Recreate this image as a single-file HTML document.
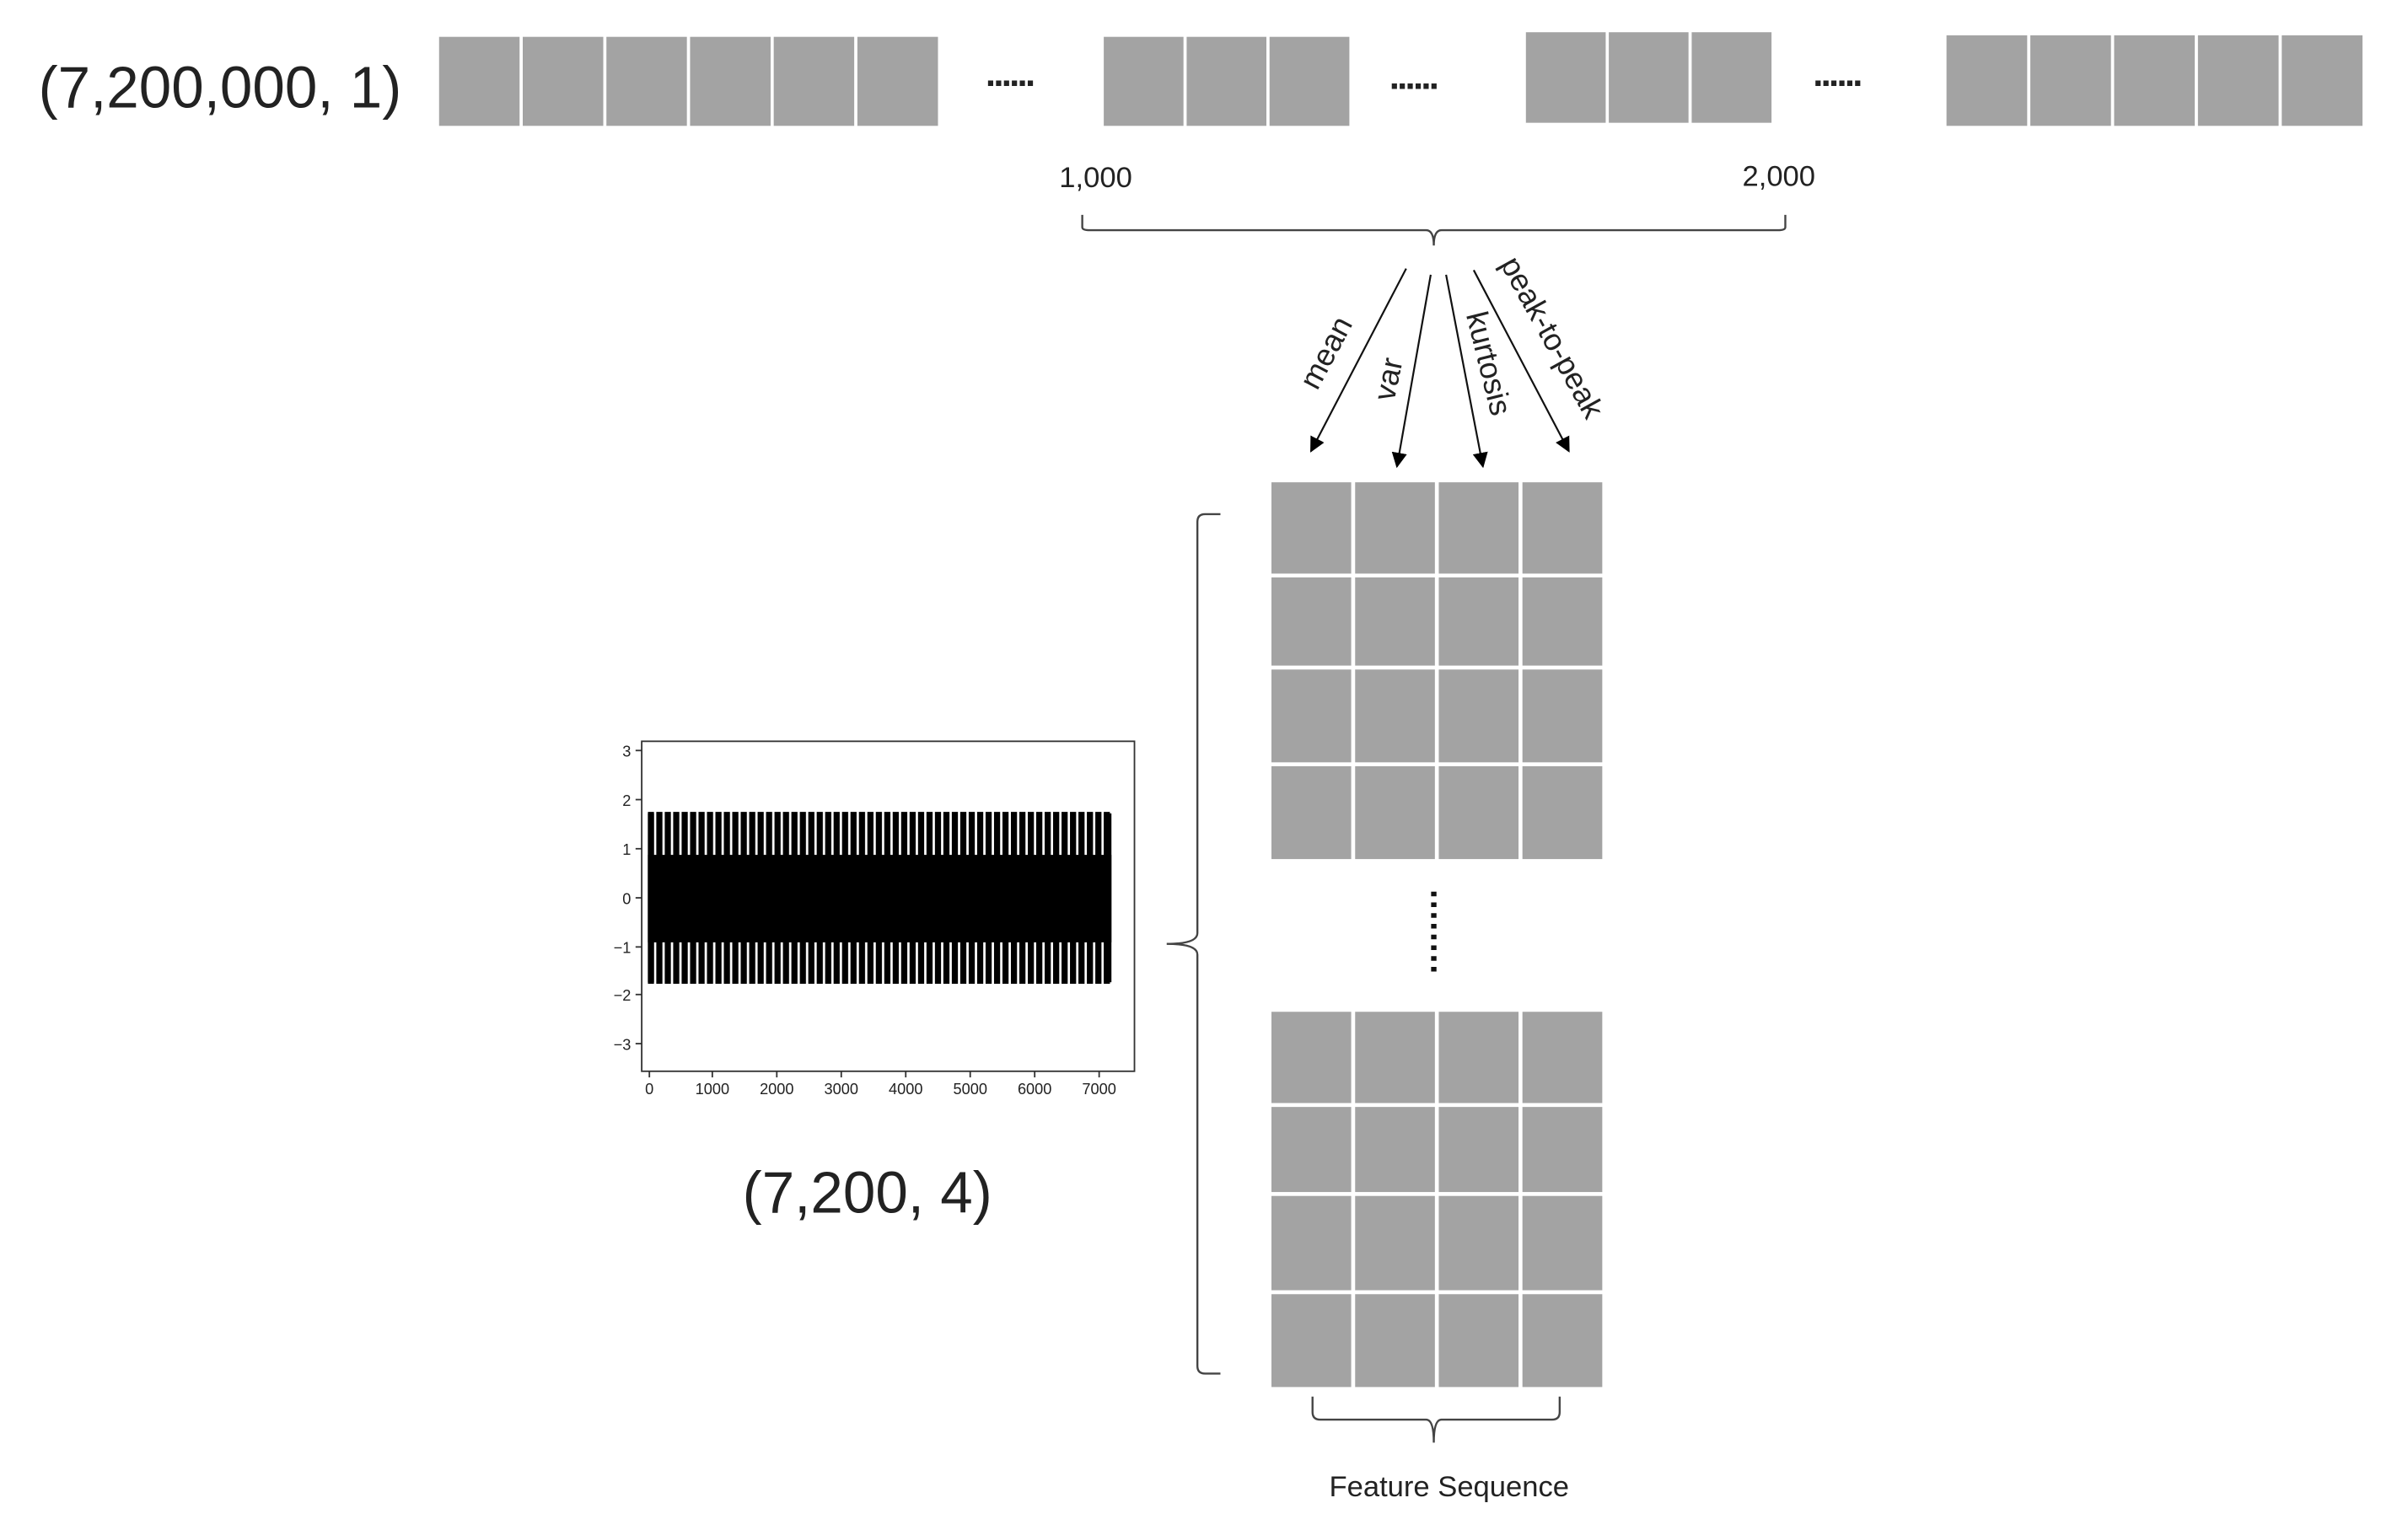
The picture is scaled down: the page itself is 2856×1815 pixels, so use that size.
<!DOCTYPE html>
<html><head><meta charset="utf-8"><style>
html,body{margin:0;padding:0;background:#fff;}
svg{display:block;}
text{font-family:"Liberation Sans","Noto Sans CJK SC",sans-serif;fill:#222;}
</style></head><body>
<svg width="2856" height="1815" viewBox="0 0 1568.6 996.9" xmlns="http://www.w3.org/2000/svg">
<defs>
<pattern id="sp" x="422" y="0" width="5.5" height="10" patternUnits="userSpaceOnUse">
<rect x="0" y="0" width="4" height="10" fill="#000"/>
</pattern>
<marker id="ah" markerWidth="10" markerHeight="10" refX="9" refY="5" orient="auto" markerUnits="userSpaceOnUse">
<path d="M0,0 L10,5 L0,10 z" fill="#000"/>
</marker>
</defs>
<text x="25" y="70" font-size="38" fill="#222">(7,200,000, 1)</text>
<g fill="#a3a3a3" stroke="#fff" stroke-width="2">
<rect x="285" y="23" width="54.5" height="60"/><rect x="339.5" y="23" width="54.5" height="60"/><rect x="394" y="23" width="54.5" height="60"/><rect x="448.5" y="23" width="54.5" height="60"/><rect x="503" y="23" width="54.5" height="60"/><rect x="557.5" y="23" width="54.5" height="60"/>
<rect x="718" y="23" width="54" height="60"/><rect x="772" y="23" width="54" height="60"/><rect x="826" y="23" width="54" height="60"/>
<rect x="993" y="20" width="54" height="61"/><rect x="1047" y="20" width="54" height="61"/><rect x="1101" y="20" width="54" height="61"/>
<rect x="1267" y="22" width="54.6" height="61"/><rect x="1321.6" y="22" width="54.6" height="61"/><rect x="1376.2" y="22" width="54.6" height="61"/><rect x="1430.8" y="22" width="54.6" height="61"/><rect x="1485.4" y="22" width="54.6" height="61"/>
</g>
<g fill="#111" font-weight="bold">
<text x="642" y="56" font-size="24" letter-spacing="-1.5">......</text>
<text x="905" y="58" font-size="24" letter-spacing="-1.5">......</text>
<text x="1181" y="56" font-size="24" letter-spacing="-1.5">......</text>
</g>
<text x="690" y="122" font-size="19">1,000</text>
<text x="1135" y="121" font-size="19">2,000</text>
<path d="M705,140 V148 Q705,150 710,150 H929 Q934,150 934,160 Q934,150 939,150 H1158 Q1163,150 1163,148 V140" fill="none" stroke="#444" stroke-width="1.3"/>
<g stroke="#111" stroke-width="1.2" marker-end="url(#ah)">
<line x1="916" y1="175" x2="854" y2="294"/>
<line x1="932" y1="179" x2="910" y2="304"/>
<line x1="942" y1="179" x2="966" y2="304"/>
<line x1="960" y1="176" x2="1022" y2="294"/>
</g>
<text font-size="20" transform="translate(858,255) rotate(-62)">mean</text>
<text font-size="20" transform="translate(908,262) rotate(-78)">var</text>
<text font-size="20" transform="translate(955,205) rotate(76)">kurtosis</text>
<text font-size="20" transform="translate(977,172) rotate(61)">peak-to-peak</text>
<g fill="#a3a3a3" stroke="#fff" stroke-width="2.5">
<rect x="827" y="313" width="54.5" height="62"/><rect x="881.5" y="313" width="54.5" height="62"/><rect x="936" y="313" width="54.5" height="62"/><rect x="990.5" y="313" width="54.5" height="62"/>
<rect x="827" y="375" width="54.5" height="60"/><rect x="881.5" y="375" width="54.5" height="60"/><rect x="936" y="375" width="54.5" height="60"/><rect x="990.5" y="375" width="54.5" height="60"/>
<rect x="827" y="435" width="54.5" height="63"/><rect x="881.5" y="435" width="54.5" height="63"/><rect x="936" y="435" width="54.5" height="63"/><rect x="990.5" y="435" width="54.5" height="63"/>
<rect x="827" y="498" width="54.5" height="63"/><rect x="881.5" y="498" width="54.5" height="63"/><rect x="936" y="498" width="54.5" height="63"/><rect x="990.5" y="498" width="54.5" height="63"/>
<rect x="827" y="658" width="54.5" height="62"/><rect x="881.5" y="658" width="54.5" height="62"/><rect x="936" y="658" width="54.5" height="62"/><rect x="990.5" y="658" width="54.5" height="62"/>
<rect x="827" y="720" width="54.5" height="58"/><rect x="881.5" y="720" width="54.5" height="58"/><rect x="936" y="720" width="54.5" height="58"/><rect x="990.5" y="720" width="54.5" height="58"/>
<rect x="827" y="778" width="54.5" height="64"/><rect x="881.5" y="778" width="54.5" height="64"/><rect x="936" y="778" width="54.5" height="64"/><rect x="990.5" y="778" width="54.5" height="64"/>
<rect x="827" y="842" width="54.5" height="63"/><rect x="881.5" y="842" width="54.5" height="63"/><rect x="936" y="842" width="54.5" height="63"/><rect x="990.5" y="842" width="54.5" height="63"/>
</g>
<line x1="934" y1="581" x2="934" y2="636" stroke="#111" stroke-width="3.5" stroke-dasharray="3,4"/>
<path d="M795,335 H785 Q780,335 780,340 V608 Q780,615 760,615 Q780,615 780,622 V890 Q780,895 785,895 H795" fill="none" stroke="#444" stroke-width="1.3"/>
<path d="M855,910 V920 Q855,925 860,925 H929 Q934,925 934,940 Q934,925 939,925 H1011 Q1016,925 1016,920 V910" fill="none" stroke="#444" stroke-width="1.3"/>
<text x="944" y="975" font-size="19" text-anchor="middle">Feature Sequence</text>
<rect x="418" y="483" width="321" height="215" fill="#fff" stroke="#333" stroke-width="1"/>
<rect x="422" y="529" width="302" height="112" fill="url(#sp)"/>
<rect x="422" y="557" width="302" height="57" fill="#000"/>
<rect x="422" y="530" width="4" height="110" fill="#000"/>
<rect x="719" y="530" width="5" height="110" fill="#000"/>
<g stroke="#333" stroke-width="1">
<line x1="414" y1="489" x2="418" y2="489"/><line x1="414" y1="521" x2="418" y2="521"/><line x1="414" y1="553" x2="418" y2="553"/><line x1="414" y1="585" x2="418" y2="585"/><line x1="414" y1="617" x2="418" y2="617"/><line x1="414" y1="648" x2="418" y2="648"/><line x1="414" y1="680" x2="418" y2="680"/>
<line x1="423" y1="698" x2="423" y2="702"/><line x1="464" y1="698" x2="464" y2="702"/><line x1="506" y1="698" x2="506" y2="702"/><line x1="548" y1="698" x2="548" y2="702"/><line x1="590" y1="698" x2="590" y2="702"/><line x1="632" y1="698" x2="632" y2="702"/><line x1="674" y1="698" x2="674" y2="702"/><line x1="716" y1="698" x2="716" y2="702"/>
</g>
<g font-size="10" text-anchor="end">
<text x="411" y="493">3</text><text x="411" y="525">2</text><text x="411" y="557">1</text><text x="411" y="589">0</text><text x="411" y="621">−1</text><text x="411" y="652">−2</text><text x="411" y="684">−3</text>
</g>
<g font-size="10" text-anchor="middle">
<text x="423" y="713">0</text><text x="464" y="713">1000</text><text x="506" y="713">2000</text><text x="548" y="713">3000</text><text x="590" y="713">4000</text><text x="632" y="713">5000</text><text x="674" y="713">6000</text><text x="716" y="713">7000</text>
</g>
<text x="565" y="790" font-size="38" text-anchor="middle">(7,200, 4)</text>
</svg>
</body></html>
